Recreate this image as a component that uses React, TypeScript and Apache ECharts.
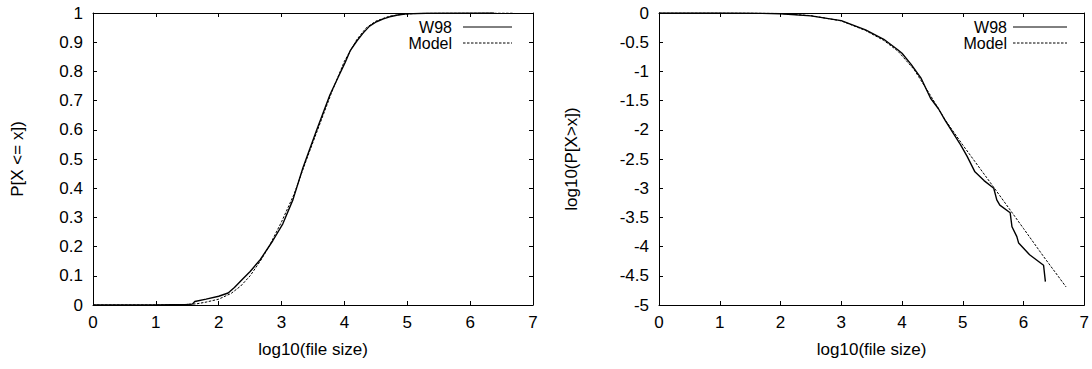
import React, { useEffect, useRef } from "react";
import * as echarts from "echarts";

const FONT = "Liberation Sans, Arial, Helvetica, sans-serif";

// x-axis ticks (log10 of file size)
const xTicks = [0, 1, 2, 3, 4, 5, 6, 7];

// Cumulative distribution P[X <= x]
const cdfW98X = [0, 1, 1.5, 1.58, 1.62, 1.8, 2.0, 2.15, 2.25, 2.35, 2.5, 2.66, 2.86, 3.02, 3.18, 3.34, 3.56, 3.77, 3.9, 4.01, 4.09, 4.2, 4.3, 4.4, 4.51, 4.62, 4.72, 4.85, 4.99, 5.3, 6.38];
const cdfW98Y = [0, 0.0005, 0.002, 0.003, 0.012, 0.02, 0.03, 0.041, 0.06, 0.082, 0.115, 0.155, 0.22, 0.278, 0.36, 0.47, 0.6, 0.72, 0.78, 0.83, 0.87, 0.905, 0.932, 0.955, 0.97, 0.98, 0.987, 0.993, 0.997, 0.999, 1];
const cdfModelX = [0, 1, 1.4, 1.65, 1.8, 2.0, 2.2, 2.35, 2.5, 2.66, 2.8, 3.0, 3.2, 3.4, 3.6, 3.8, 4.0, 4.2, 4.35, 4.5, 4.7, 4.9, 5.1, 5.5, 6.7];
const cdfModelY = [0, 0, 0.001, 0.004, 0.01, 0.02, 0.04, 0.065, 0.1, 0.15, 0.2, 0.285, 0.38, 0.5, 0.615, 0.73, 0.835, 0.91, 0.95, 0.972, 0.988, 0.995, 0.998, 0.9995, 1];

// Complementary distribution log10(P[X > x])
const ccdfW98X = [0, 1, 1.5, 2.0, 2.5, 3.0, 3.4, 3.7, 3.93, 4.0, 4.15, 4.31, 4.47, 4.6, 4.71, 4.85, 4.96, 5.07, 5.2, 5.35, 5.51, 5.56, 5.61, 5.78, 5.81, 5.89, 5.92, 6.1, 6.33, 6.36];
const ccdfW98Y = [0, 0, -0.002, -0.013, -0.05, -0.13, -0.29, -0.45, -0.63, -0.69, -0.88, -1.11, -1.46, -1.64, -1.84, -2.07, -2.25, -2.45, -2.72, -2.87, -3.0, -3.2, -3.29, -3.42, -3.66, -3.83, -3.94, -4.14, -4.32, -4.6];
const ccdfModelX = [0, 1, 1.5, 2, 2.5, 3, 3.4, 3.7, 3.93, 4.2, 4.45, 4.71, 5.0, 5.5, 6.0, 6.33, 6.7];
const ccdfModelY = [0, 0, -0.001, -0.009, -0.045, -0.135, -0.3, -0.47, -0.65, -0.97, -1.38, -1.83, -2.26, -2.97, -3.69, -4.17, -4.69];

const seriesNames = ["W98", "Model"];

const pairs = (xs: number[], ys: number[]) => xs.map((x, i) => [x, ys[i]]);

const txt = { color: "#000", fontSize: 17, fontFamily: FONT };

function xAxes(grid: number) {
  return [
    {
      gridIndex: grid,
      type: "value",
      min: xTicks[0],
      max: xTicks[xTicks.length - 1],
      interval: 1,
      position: "bottom",
      axisLine: { show: true, onZero: false, lineStyle: { color: "#000", width: 1 } },
      axisTick: { show: true, inside: true, length: 4, lineStyle: { color: "#000" } },
      axisLabel: { ...txt, margin: 9 },
      splitLine: { show: false },
      name: "log10(file size)",
      nameLocation: "middle",
      nameGap: 36,
      nameTextStyle: txt,
    },
    {
      gridIndex: grid,
      type: "value",
      min: xTicks[0],
      max: xTicks[xTicks.length - 1],
      interval: 1,
      position: "top",
      axisLine: { show: true, onZero: false, lineStyle: { color: "#000", width: 1 } },
      axisTick: { show: true, inside: true, length: 4, lineStyle: { color: "#000" } },
      axisLabel: { show: false },
      splitLine: { show: false },
    },
  ];
}

function yAxes(grid: number, min: number, max: number, interval: number, name: string, gap: number) {
  return [
    {
      gridIndex: grid,
      type: "value",
      min,
      max,
      interval,
      position: "left",
      axisLine: { show: true, onZero: false, lineStyle: { color: "#000", width: 1 } },
      axisTick: { show: true, inside: true, length: 4, lineStyle: { color: "#000" } },
      axisLabel: { ...txt, margin: 10 },
      splitLine: { show: false },
      name,
      nameLocation: "middle",
      nameGap: gap,
      nameTextStyle: txt,
    },
    {
      gridIndex: grid,
      type: "value",
      min,
      max,
      interval,
      position: "right",
      axisLine: { show: true, onZero: false, lineStyle: { color: "#000", width: 1 } },
      axisTick: { show: true, inside: true, length: 4, lineStyle: { color: "#000" } },
      axisLabel: { show: false },
      splitLine: { show: false },
    },
  ];
}

const dash = [2.5, 1.5];

function legend(textRight: number, lineStart: number, lineEnd: number) {
  const rows = [
    { y: 27, name: seriesNames[0], lineDash: null as number[] | null },
    { y: 43, name: seriesNames[1], lineDash: dash },
  ];
  const out: any[] = [];
  rows.forEach((r) => {
    out.push({
      type: "text",
      x: textRight,
      y: r.y,
      style: { text: r.name, fill: "#000", font: `16px ${FONT}`, textAlign: "right", textVerticalAlign: "middle" },
    });
    out.push({
      type: "line",
      shape: { x1: lineStart, y1: r.y, x2: lineEnd, y2: r.y },
      style: { stroke: "#000", lineWidth: 1, lineDash: r.lineDash || undefined },
    });
  });
  return out;
}

function line(name: string, xi: number, yi: number, data: number[][], dashed: boolean) {
  return {
    name,
    type: "line",
    xAxisIndex: xi,
    yAxisIndex: yi,
    data,
    showSymbol: false,
    symbol: "none",
    smooth: false,
    lineStyle: { color: "#000", width: dashed ? 1 : 1.4, type: dashed ? dash : "solid" },
    z: dashed ? 3 : 2,
  };
}

export default function App() {
  const ref = useRef<HTMLDivElement>(null);
  useEffect(() => {
    if (!ref.current) return;
    const chart = echarts.init(ref.current, null, { renderer: "svg" });
    chart.setOption({
      animation: false,
      backgroundColor: "#fff",
      grid: [
        { left: 93, top: 13, width: 440, height: 292 },
        { left: 659, top: 13, width: 429, height: 292 },
      ],
      xAxis: [...xAxes(0), ...xAxes(1)],
      yAxis: [
        ...yAxes(0, 0, 1, 0.1, "P[X <= x])", 67),
        ...yAxes(1, -5, 0, 0.5, "log10(P[X>x])", 79),
      ],
      series: [
        line(seriesNames[0], 0, 0, pairs(cdfW98X, cdfW98Y), false),
        line(seriesNames[1], 0, 0, pairs(cdfModelX, cdfModelY), true),
        line(seriesNames[0], 2, 2, pairs(ccdfW98X, ccdfW98Y), false),
        line(seriesNames[1], 2, 2, pairs(ccdfModelX, ccdfModelY), true),
      ],
      graphic: [...legend(452, 463, 512), ...legend(1007, 1013, 1067)],
    });
    return () => chart.dispose();
  }, []);
  return (
    <div
      ref={ref}
      style={{ position: "fixed", left: 0, top: 0, width: 1092, height: 369, background: "#fff" }}
    />
  );
}
